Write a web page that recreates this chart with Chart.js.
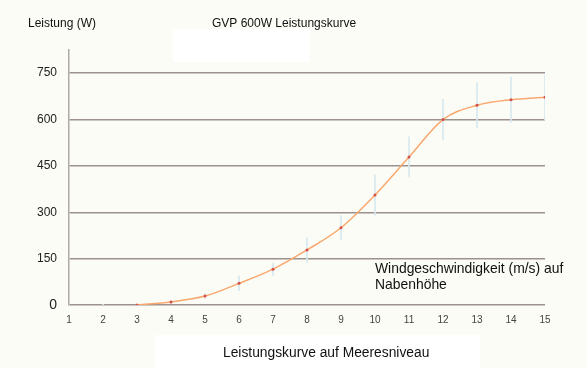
<!DOCTYPE html>
<html>
    <head>
        <title>GVP 600W Leistungskurve</title>
        <meta charset="UTF-8">
        <style>
          body { margin: 0; background: #fbfcf5; }
          #wrap { position: relative; width: 587px; height: 368px; }
        </style>
    </head>
    <body>
        <div id="wrap">
          <canvas id="powerChart" width="587" height="368"></canvas>
        </div>
        <script src="https://cdn.jsdelivr.net/npm/chart.js/dist/chart.umd.min.js"></script>

        <script>
          //****************************** data ******************************//
          const windSpeed = [3, 4, 5, 6, 7, 8, 9, 10, 11, 12, 13, 14, 15];          // m/s
          const power     = [0, 10, 29, 70, 116, 178, 250, 356, 479, 600, 646, 664, 672]; // W

          // spread of the measurements (light blue bars)
          const errSpeed = [2, 3, 4, 5, 6, 7, 8, 9, 10, 11, 12, 13, 14, 15];
          const errLow   = [-3, -2, 6, 21, 46, 96, 138, 211, 291, 414, 535, 573, 591, 599];
          const errHigh  = [3, 2, 14, 37, 94, 136, 218, 289, 421, 544, 665, 719, 737, 745];

          const yTicks = [0, 150, 300, 450, 600, 750];

          const titleText  = 'GVP 600W Leistungskurve';
          const yAxisText  = 'Leistung (W)';
          const xAxisText  = ['Windgeschwindigkeit (m/s) auf', 'Nabenhöhe'];
          const footerText = 'Leistungskurve auf Meeresniveau';

          const FONT = '"Liberation Sans", Arial, sans-serif';

          //****************************** background + free texts ******************************//
          const decor = {
            id: 'decor',
            beforeDraw(chart) {
              const ctx = chart.ctx;
              ctx.save();
              ctx.fillStyle = '#fbfcf5';
              ctx.fillRect(0, 0, chart.width, chart.height);
              // the white patches of the original screenshot
              ctx.fillStyle = '#ffffff';
              ctx.fillRect(173, 29, 137, 33);
              ctx.fillRect(155, 335, 325, 33);
              ctx.restore();
            },
            afterDraw(chart) {
              const ctx = chart.ctx;
              ctx.save();
              ctx.fillStyle = '#111111';
              ctx.textBaseline = 'middle';
              ctx.textAlign = 'left';
              ctx.font = '12px ' + FONT;
              ctx.fillText(yAxisText, 28, 24);
              ctx.fillText(titleText, 212, 24);
              ctx.font = '13.9px ' + FONT;
              ctx.fillText(xAxisText[0], 375, 269);
              ctx.fillText(xAxisText[1], 375, 285);
              ctx.font = '13.8px ' + FONT;
              ctx.fillText(footerText, 223, 353);
              ctx.restore();
            }
          };

          //****************************** chart ******************************//
          const CHART = document.getElementById('powerChart');
          let powerChart = new Chart(CHART, {
            data: {
              datasets: [
                {
                  type: 'line',
                  label: 'Leistung',
                  data: windSpeed.map((v, i) => ({ x: v, y: power[i] })),
                  borderColor: '#f9a86f',
                  borderWidth: 1.5,
                  pointRadius: 1.5,
                  pointBackgroundColor: '#d4514a',
                  pointBorderWidth: 0,
                  cubicInterpolationMode: 'monotone',
                  order: 0
                },
                {
                  type: 'bar',
                  label: 'Streuung',
                  data: errSpeed.map((v, i) => ({ x: v, y: [errLow[i], errHigh[i]] })),
                  backgroundColor: '#d6e9f0',
                  barThickness: 1,
                  order: 1
                }
              ]
            },
            options: {
              responsive: false,
              animation: false,
              layout: { padding: { left: 0, top: 50, right: 42, bottom: 0 } },
              plugins: {
                legend: { display: false },
                tooltip: { enabled: false }
              },
              scales: {
                x: {
                  type: 'linear',
                  min: 1,
                  max: 15,
                  offset: false,
                  ticks: {
                    stepSize: 1,
                    color: '#444444',
                    font: { family: FONT, size: 10 },
                    padding: 9
                  },
                  grid: { display: false, drawTicks: false },
                  border: { display: false },
                  afterFit(scale) { scale.height = 63; }
                },
                y: {
                  min: 0,
                  max: 825,
                  afterBuildTicks(scale) {
                    scale.ticks = yTicks.map(v => ({ value: v }));
                  },
                  ticks: {
                    color: '#222222',
                    padding: 12,
                    font: ctx => ({ family: FONT, size: ctx.tick && ctx.tick.value === 0 ? 14 : 12 })
                  },
                  grid: {
                    color: '#9c918c',
                    lineWidth: 1.5,
                    drawTicks: false
                  },
                  border: { color: '#b0aaa6', width: 1.5 },
                  afterFit(scale) { scale.width = 69; }
                }
              }
            },
            plugins: [decor]
          });
        </script>
    </body>
</html>
